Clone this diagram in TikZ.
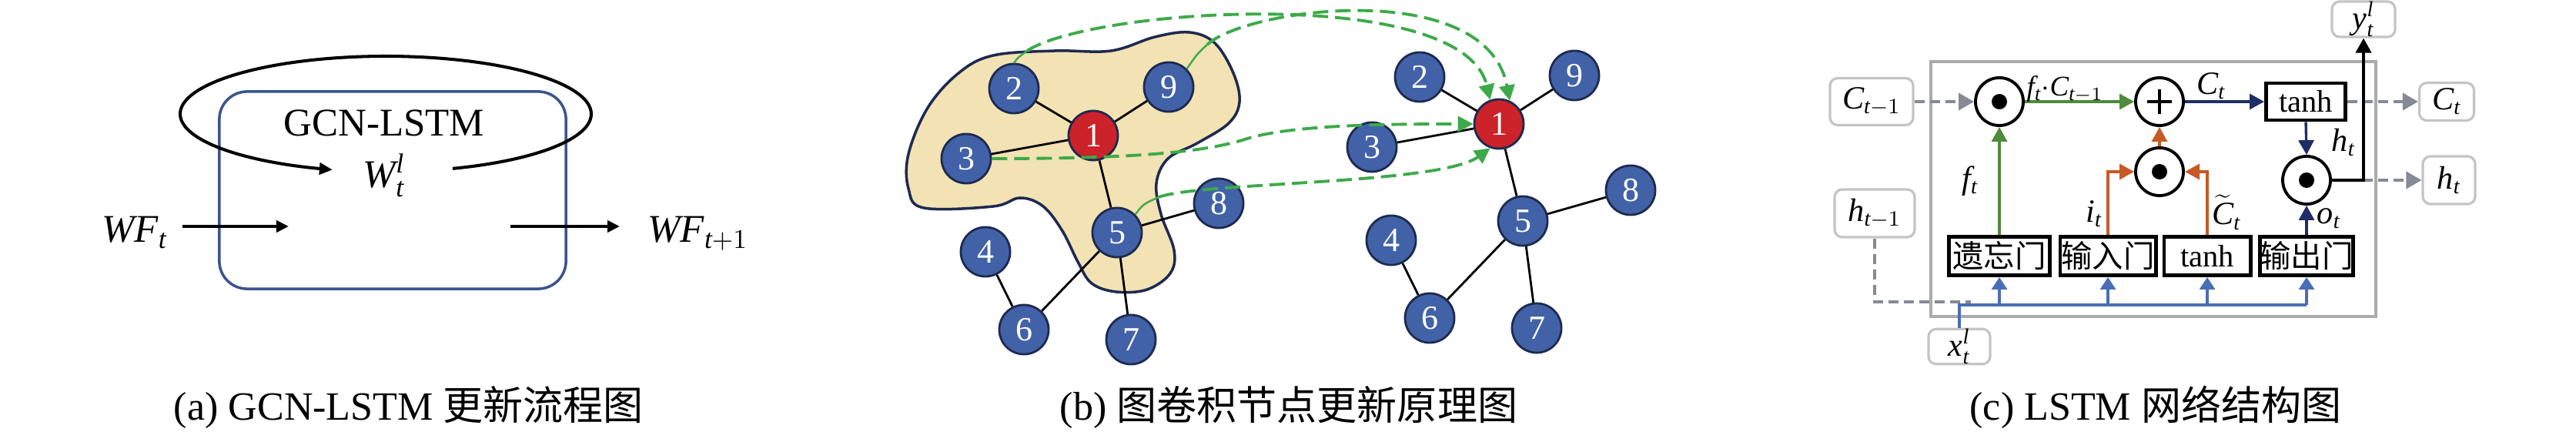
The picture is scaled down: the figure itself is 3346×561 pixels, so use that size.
\documentclass[tikz,border=0pt]{standalone}
\usepackage{fontspec}
\setmainfont{Liberation Serif}
\newfontfamily\cjk{Noto Sans CJK SC}
\usetikzlibrary{arrows.meta,calc}
\definecolor{boxblue}{HTML}{3A5490}
\definecolor{nodeblue}{HTML}{4262A8}
\definecolor{nodered}{HTML}{CC2229}
\definecolor{nodeedge}{HTML}{1E2A50}
\definecolor{blobfill}{HTML}{F3E2B3}
\definecolor{dgreen}{HTML}{3DAA4A}
\definecolor{lgreen}{HTML}{4E8B3A}
\definecolor{orng}{HTML}{C55A28}
\definecolor{navy}{HTML}{1F2E66}
\definecolor{busblue}{HTML}{4A6DB5}
\definecolor{dgray}{HTML}{858A94}
\definecolor{lgray}{HTML}{C4C4C4}
\definecolor{rgray}{HTML}{ABABAB}
\newcommand{\mv}[1]{\mathit{#1}}
\begin{document}
\begin{tikzpicture}[x=0.01cm, y=-0.01cm,
  mainfont/.style={font=\fontsize{14.5}{16}\selectfont},
  capfont/.style={font=\fontsize{14.8}{17}\selectfont},
  thickarr/.style={line width=1.15pt, -{Triangle[length=0.16cm,width=0.15cm]}},
  gnode/.style={circle, draw=nodeedge, line width=0.8pt, fill=nodeblue, minimum size=0.64cm, inner sep=0pt, text=white, font=\fontsize{12.5}{12.5}\selectfont},
  rnode/.style={gnode, fill=nodered},
  gedge/.style={line width=0.8pt, draw=black},
  gflow/.style={draw=dgreen, line width=1.1pt, dash pattern=on 0.2cm off 0.09cm, -{Triangle[length=0.2cm,width=0.2cm]}},
  gthin/.style={draw=dgreen, line width=0.7pt},
  lbox/.style={draw=lgray, line width=0.9pt, rounded corners=0.1cm, fill=white, inner sep=0pt, font=\fontsize{12}{12}\selectfont},
  opc/.style={circle, draw=black, line width=1.1pt, minimum size=0.62cm, inner sep=0pt, fill=white},
  gatebox/.style={draw=black, line width=1.4pt, fill=white, inner sep=0pt, minimum height=0.5cm, font=\fontsize{11.5}{12}\selectfont},
  tipc/.style={-{Triangle[length=0.19cm,width=0.2cm]}},
  gdash/.style={draw=dgray, line width=1.1pt, dash pattern=on 0.13cm off 0.07cm, -{Triangle[length=0.2cm,width=0.22cm]}},
  lab/.style={inner sep=0pt, font=\fontsize{12}{12}\selectfont}
]
\useasboundingbox (0,0) rectangle (3346,561);

% ---------------- (a) ----------------
\node[draw=boxblue, line width=1pt, rounded corners=0.36cm, minimum width=4.5cm, minimum height=2.56cm] (gbox) at (510,247) {};
\node[mainfont] (gcn) at (499,160) {GCN-LSTM};
\node[mainfont] (wl) at (499,228) {$\mv{W}_{\mv{t}}^{\mv{l}}$};
\draw[line width=1.15pt, {Triangle[length=0.17cm,width=0.15cm]}-] plot[domain=-255:71, samples=120, smooth] ({501+267*cos(\x)}, {148+75*sin(\x)});
\node[mainfont, anchor=base] (wft) at (175,315) {$\mv{WF}_{\mv{t}}$};
\node[mainfont, anchor=base west] (wft1) at (829,315) {$\mv{WF}_{\mv{t}+1}$};
\coordinate (a1s) at (237,294); \coordinate (a1e) at (375,294);
\coordinate (a2s) at (663,294); \coordinate (a2e) at (805,294);
\draw[thickarr] (a1s) -- (a1e);
\draw[thickarr] (a2s) -- (a2e);
\node[capfont] (capa) at (531,529) {(a) GCN-LSTM {\cjk 更新流程图}};

% ---------------- (b) ----------------
\draw[draw=nodeedge, fill=blobfill, line width=1pt] plot[smooth cycle, tension=0.6] coordinates {
 (1290,72) (1370,66) (1443,66) (1500,48) (1545,42) (1578,56) (1602,95) (1610,132)
 (1596,160) (1555,186) (1517,206) (1502,238) (1508,278) (1525,325) (1520,355)
 (1490,376) (1450,379) (1418,368) (1400,340) (1380,300) (1355,268) (1325,257)
 (1290,268) (1200,270) (1180,245) (1180,200) (1205,140) (1245,95)};

\node[gnode] (L2) at (1317,115) {2};
\node[gnode] (L9) at (1518,113) {9};
\node[rnode] (L1) at (1420,176) {1};
\node[gnode] (L3) at (1255,206) {3};
\node[gnode] (L5) at (1451,302) {5};
\node[gnode] (L8) at (1583,264) {8};
\node[gnode] (L4) at (1280,327) {4};
\node[gnode] (L6) at (1330,428) {6};
\node[gnode] (L7) at (1469,441) {7};
\draw[gedge] (L2) -- (L1);
\draw[gedge] (L9) -- (L1);
\draw[gedge] (L3) -- (L1);
\draw[gedge] (L1) -- (L5);
\draw[gedge] (L5) -- (L8);
\draw[gedge] (L5) -- (L6);
\draw[gedge] (L5) -- (L7);
\draw[gedge] (L4) -- (L6);

\begin{scope}[shift={(527,-15)}]
\node[gnode] (R2) at (1317,115) {2};
\node[gnode] (R9) at (1518,113) {9};
\node[rnode] (R1) at (1420,176) {1};
\node[gnode] (R3) at (1255,206) {3};
\node[gnode] (R5) at (1451,302) {5};
\node[gnode] (R8) at (1591,262) {8};
\node[gnode] (R4) at (1280,327) {4};
\node[gnode] (R6) at (1330,428) {6};
\node[gnode] (R7) at (1469,441) {7};
\end{scope}
\draw[gedge] (R2) -- (R1);
\draw[gedge] (R9) -- (R1);
\draw[gedge] (R3) -- (R1);
\draw[gedge] (R1) -- (R5);
\draw[gedge] (R5) -- (R8);
\draw[gedge] (R5) -- (R6);
\draw[gedge] (R5) -- (R7);
\draw[gedge] (R4) -- (R6);

\coordinate (g1) at (1334,66);
\coordinate (g2) at (1568,58);
\coordinate (g4) at (1505,256);
\draw[gthin] (L2.north) .. controls (1322,75) .. (g1);
\draw[gthin] (L9.45) .. controls (1555,70) .. (g2);
\draw[gthin] (L5.45) .. controls (1485,265) .. (g4);
\draw[gflow] (g1) .. controls (1420,10) and (1900,-20) .. (R1.110);
\draw[gflow] (g2) .. controls (1620,10) and (1930,-30) .. (R1.65);
\draw[gflow] (L3.east) .. controls (1450,206) and (1560,200) .. (1620,180) .. controls (1680,162) and (1800,161) .. (R1.west);
\draw[gflow] (g4) .. controls (1560,236) and (1870,240) .. (R1.-110);

\node[capfont] (capb) at (1674,529) {(b) {\cjk 图卷积节点更新原理图}};

% ---------------- (c) ----------------
\node[draw=rgray, line width=1.1pt, minimum width=5.78cm, minimum height=3.31cm, inner sep=0pt] (cell) at (2797,245.5) {};

\node[lbox, minimum width=1.08cm, minimum height=0.61cm] (cprev) at (2431,132) {$\mv{C}_{\mv{t}-1}$};
\node[lbox, minimum width=1.04cm, minimum height=0.62cm] (hprev) at (2435,277) {$\mv{h}_{\mv{t}-1}$};
\node[lbox, minimum width=0.80cm, minimum height=0.42cm] (xin) at (2545,450) {$\mv{x}_{\mv{t}}^{\mv{l}}$};
\node[lbox, minimum width=0.82cm, minimum height=0.46cm] (yout) at (3070,25) {$\mv{y}_{\mv{t}}^{\mv{l}}$};
\node[lbox, minimum width=0.71cm, minimum height=0.49cm] (cout) at (3178,132) {$\mv{C}_{\mv{t}}$};
\node[lbox, minimum width=0.68cm, minimum height=0.62cm] (hout) at (3181,234) {$\mv{h}_{\mv{t}}$};

\node[opc] (m1) at (2597,132) {};
\node[opc] (add) at (2805,132) {};
\node[opc] (m2) at (2805,223) {};
\node[opc] (m3) at (2996,234) {};
\fill (m1.center) circle[radius=0.1cm];
\fill (m2.center) circle[radius=0.1cm];
\fill (m3.center) circle[radius=0.1cm];
\draw[line width=1.3pt] ([xshift=-0.16cm]add.center) -- ([xshift=0.16cm]add.center);
\draw[line width=1.3pt] ([yshift=-0.16cm]add.center) -- ([yshift=0.16cm]add.center);

\node[gatebox, minimum width=1.03cm, minimum height=0.48cm] (tanh1) at (2995,132) {tanh};
\node[gatebox, minimum width=1.31cm] (forget) at (2597,332.5) {\cjk 遗忘门};
\node[gatebox, minimum width=1.24cm] (input) at (2738,332.5) {\cjk 输入门};
\node[gatebox, minimum width=1.12cm] (tanh2) at (2867,332.5) {tanh};
\node[gatebox, minimum width=1.20cm] (output) at (2996,332.5) {\cjk 输出门};

% gray dashed in/out
\draw[gdash] (cprev.east) -- (m1.west);
\draw[gdash] (tanh1.east) -- (cout.west);
\draw[gdash] (m3.east) -- (hout.west);
\coordinate (hdash) at (2560,392);
\draw[draw=dgray, line width=1.1pt, dash pattern=on 0.13cm off 0.07cm] (hprev.south) |- (hdash);

% green
\draw[lgreen, line width=0.95pt, tipc] (m1.east) -- (add.west);
\draw[lgreen, line width=0.95pt, tipc] (forget.north) -- (m1.south);
% orange
\draw[orng, line width=0.95pt, tipc] (m2.north) -- (add.south);
\draw[orng, line width=0.95pt, tipc] (input.north) |- (m2.west);
\draw[orng, line width=0.95pt, tipc] (tanh2.north) |- (m2.east);
% navy
\draw[navy, line width=0.95pt, tipc] (add.east) -- (tanh1.west);
\draw[navy, line width=0.95pt, tipc] (tanh1.south) -- (m3.north);
\draw[navy, line width=0.95pt, tipc] (output.north) -- (m3.south);
% black output
\draw[black, line width=1.1pt, tipc] (m3.east) -| (yout.south);

% blue bus
\coordinate (busl) at (2545,396);
\coordinate (busr) at (2996,396);
\draw[busblue, line width=0.9pt] (xin.north) -- (busl) -- (busr);
\draw[busblue, line width=0.9pt, -{Triangle[length=0.16cm,width=0.2cm]}] (busl -| forget.south) -- (forget.south);
\draw[busblue, line width=0.9pt, -{Triangle[length=0.16cm,width=0.2cm]}] (busl -| input.south) -- (input.south);
\draw[busblue, line width=0.9pt, -{Triangle[length=0.16cm,width=0.2cm]}] (busl -| tanh2.south) -- (tanh2.south);
\draw[busblue, line width=0.9pt, -{Triangle[length=0.16cm,width=0.2cm]}] (busl -| output.south) -- (output.south);

% labels
\node[lab, anchor=base west, font=\fontsize{10.5}{11}\selectfont] (lfc) at (2632,125) {$\mv{f}_{\mv{t}}{\cdot}\mv{C}_{\mv{t}-1}$};
\node[lab] (lct) at (2872,112) {$\mv{C}_{\mv{t}}$};
\node[lab] (lht) at (3044,185) {$\mv{h}_{\mv{t}}$};
\node[lab] (lot) at (3025,284) {$\mv{o}_{\mv{t}}$};
\node[lab] (lctil) at (2892,276) {$\widetilde{\mv{C}}_{\mv{t}}$};
\node[lab] (lit) at (2720,278) {$\mv{i}_{\mv{t}}$};
\node[lab] (lft) at (2559,235) {$\mv{f}_{\mv{t}}$};

\node[capfont] (capc) at (2800,529) {(c) LSTM {\cjk 网络结构图}};
\end{tikzpicture}
\end{document}
